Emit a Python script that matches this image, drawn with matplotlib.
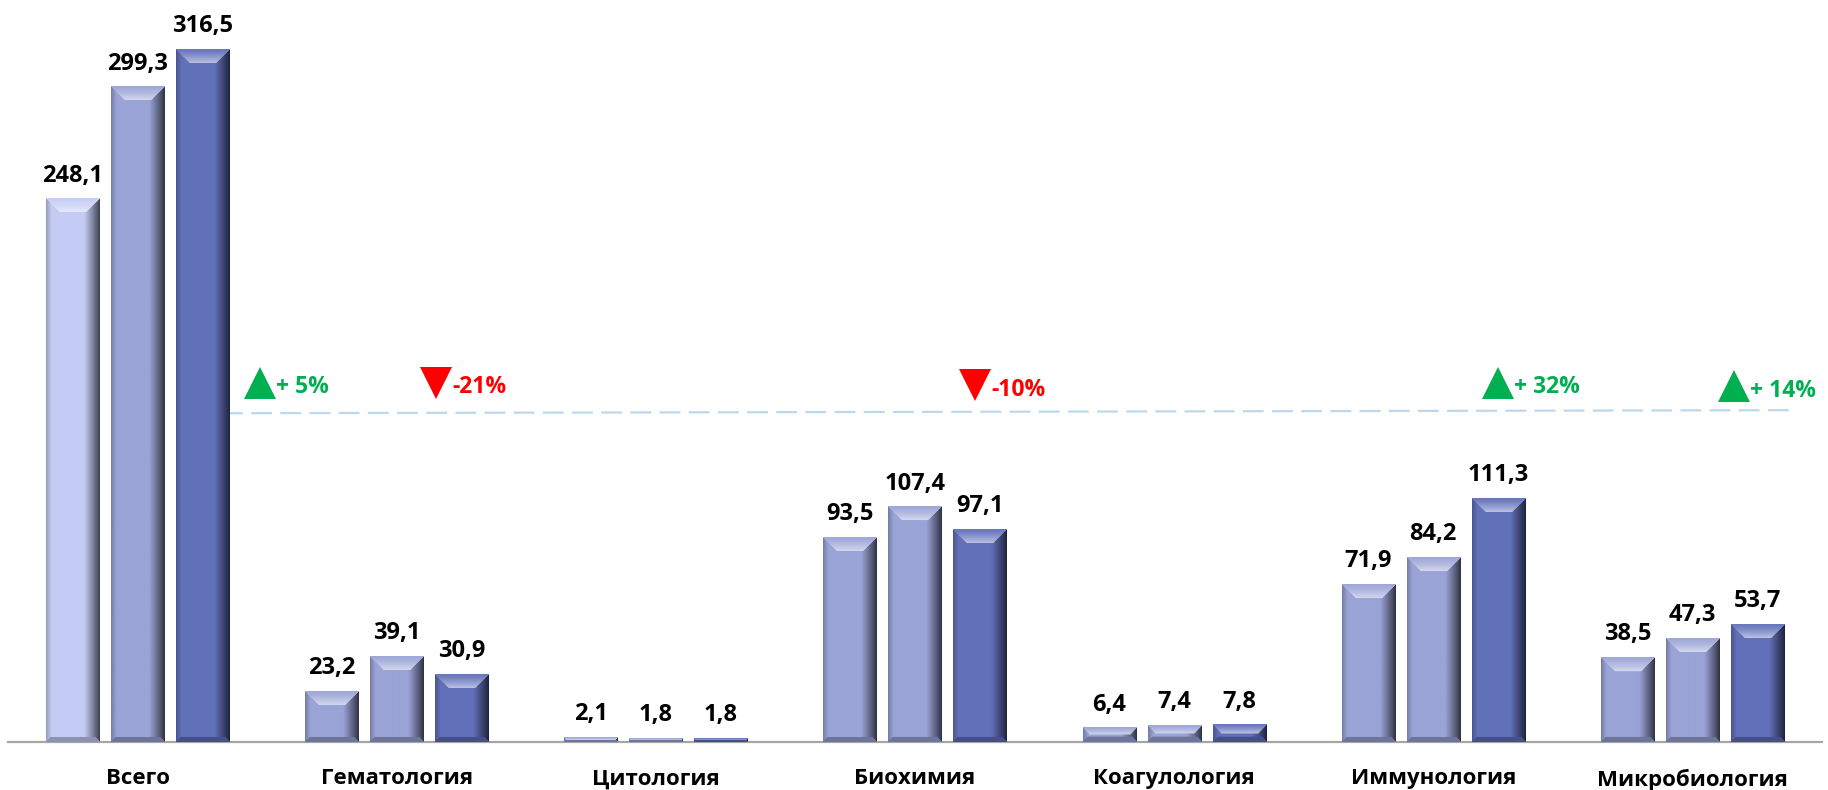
import numpy as np
import matplotlib
matplotlib.use("Agg")
import matplotlib.pyplot as plt

plt.rcParams['font.family'] = ['Open Sans', 'DejaVu Sans']
plt.rcParams['lines.scale_dashes'] = False

# ---- data ----
categories = ["Всего", "Гематология", "Цитология", "Биохимия",
              "Коагулология", "Иммунология", "Микробиология"]
series_1 = [248.1, 23.2, 2.1, 93.5, 6.4, 71.9, 38.5]
series_2 = [299.3, 39.1, 1.8, 107.4, 7.4, 84.2, 47.3]
series_3 = [316.5, 30.9, 1.8, 97.1, 7.8, 111.3, 53.7]
labels_1 = ["248,1", "23,2", "2,1", "93,5", "6,4", "71,9", "38,5"]
labels_2 = ["299,3", "39,1", "1,8", "107,4", "7,4", "84,2", "47,3"]
labels_3 = ["316,5", "30,9", "1,8", "97,1", "7,8", "111,3", "53,7"]

# change annotations
change_idx = [0.472, 1.151, 3.23, 5.248, 6.159]
change_txt = ["+ 5%", "-21%", "-10%", "+ 32%", "+ 14%"]
change_up = [True, False, False, True, True]

# ---- figure ----
W, H = 1828, 790
fig = plt.figure(figsize=(W / 100, H / 100), dpi=100)
ax = fig.add_axes([8 / W, 48 / H, 1814 / W, 742 / H])
ax.set_xlim(-0.5, len(categories) - 0.5)
ax.set_ylim(0, 339.0)
for s in ["top", "right", "left"]:
    ax.spines[s].set_visible(False)
ax.spines["bottom"].set_color("#A6A6A6")
ax.spines["bottom"].set_linewidth(1.6)
ax.set_yticks([])
x = np.arange(len(categories))
ax.set_xticks(x)
ax.set_xticklabels(categories, fontsize=16, fontweight="bold", color="black")
ax.tick_params(axis="x", length=0, pad=19)

c_first_total = "#C4CCF5"
c1 = "#9AA3D6"
c2 = "#9AA3D6"
c3 = "#6270BA"

off = 0.251
bw = 0.205
b1 = ax.bar(x - off, series_1, bw, color=[c_first_total] + [c1] * (len(x) - 1), zorder=2)
b2 = ax.bar(x, series_2, bw, color=c2, zorder=2)
b3 = ax.bar(x + off, series_3, bw, color=c3, zorder=2)

fig.canvas.draw()
tr = ax.transData


def shade_bar(rect):
    x0, w, h = rect.get_x(), rect.get_width(), rect.get_height()
    c = np.array(rect.get_facecolor()[:3])
    (px0, py0) = tr.transform((x0, 0))
    (px1, py1) = tr.transform((x0 + w, h))
    nx = max(int(round(px1 - px0)), 2)
    ny = max(int(round(py1 - py0)), 2)
    ii = np.arange(nx)[None, :].repeat(ny, 0).astype(float)
    jj = np.arange(ny)[:, None].repeat(nx, 1).astype(float)
    dl = ii
    dr = nx - 1 - ii
    dt = jj
    db = ny - 1 - jj
    f = np.ones((ny, nx))
    rz = 15.0
    m = dr < rz
    f[m] = 0.32 + 0.68 * (dr[m] / rz) ** 0.9
    lz = 5.0
    m = dl < lz
    f[m] = np.minimum(f[m], 0.78 + 0.22 * dl[m] / lz)
    img = c[None, None, :] * f[:, :, None]
    bh = min(14.0, ny * 0.5)
    top = (dt < bh) & (dt <= dl) & (dt <= dr)
    t = dt / max(bh, 1)
    light = 0.05 + 0.55 * np.clip(t, 0, 1) ** 1.3
    white = np.ones(3)
    img_top = c[None, None, :] * (1 - light[:, :, None]) + white * light[:, :, None]
    img[top] = img_top[top]
    bb = min(5.0, ny * 0.3)
    bot = (db < bb) & (db <= dl) & (db <= dr)
    img[bot] = c * 0.72
    img = np.clip(img, 0, 1)
    ax.imshow(img, extent=[x0, x0 + w, 0, h], origin="upper", aspect="auto",
              interpolation="bilinear", zorder=3)
    rect.set_visible(False)


for bars in (b1, b2, b3):
    for r in bars:
        shade_bar(r)

ax.set_xlim(-0.5, len(categories) - 0.5)
ax.set_ylim(0, 339.0)

# value labels
for bars, labs in ((b1, labels_1), (b2, labels_2), (b3, labels_3)):
    for r, lab in zip(bars, labs):
        ax.annotate(lab, (r.get_x() + r.get_width() / 2, r.get_height()),
                    xytext=(0, 12.5), textcoords="offset points",
                    ha="center", va="baseline", fontsize=17,
                    fontweight="bold", color="black", zorder=5)

# dashed reference line
ax.plot([0.326, 6.387], [150.2, 151.6], color="#BDD7EE", lw=1.6,
        dashes=(15, 6), zorder=1, clip_on=False)

# change markers
tri_y = [164.0, 164.0, 163.0, 164.0, 162.5]
for xi, txt, up, ty in zip(change_idx, change_txt, change_up, tri_y):
    col = "#00B050" if up else "#FF0000"
    ax.plot([xi], [ty], marker="^" if up else "v", ms=23, color=col,
            markeredgewidth=0, zorder=5, clip_on=False)
    ax.text(xi + 0.063, ty - 2.0, txt, color=col, fontsize=16.5,
            fontweight="bold", ha="left", va="center", zorder=5, clip_on=False)

fig.savefig("out.png", dpi=100)
